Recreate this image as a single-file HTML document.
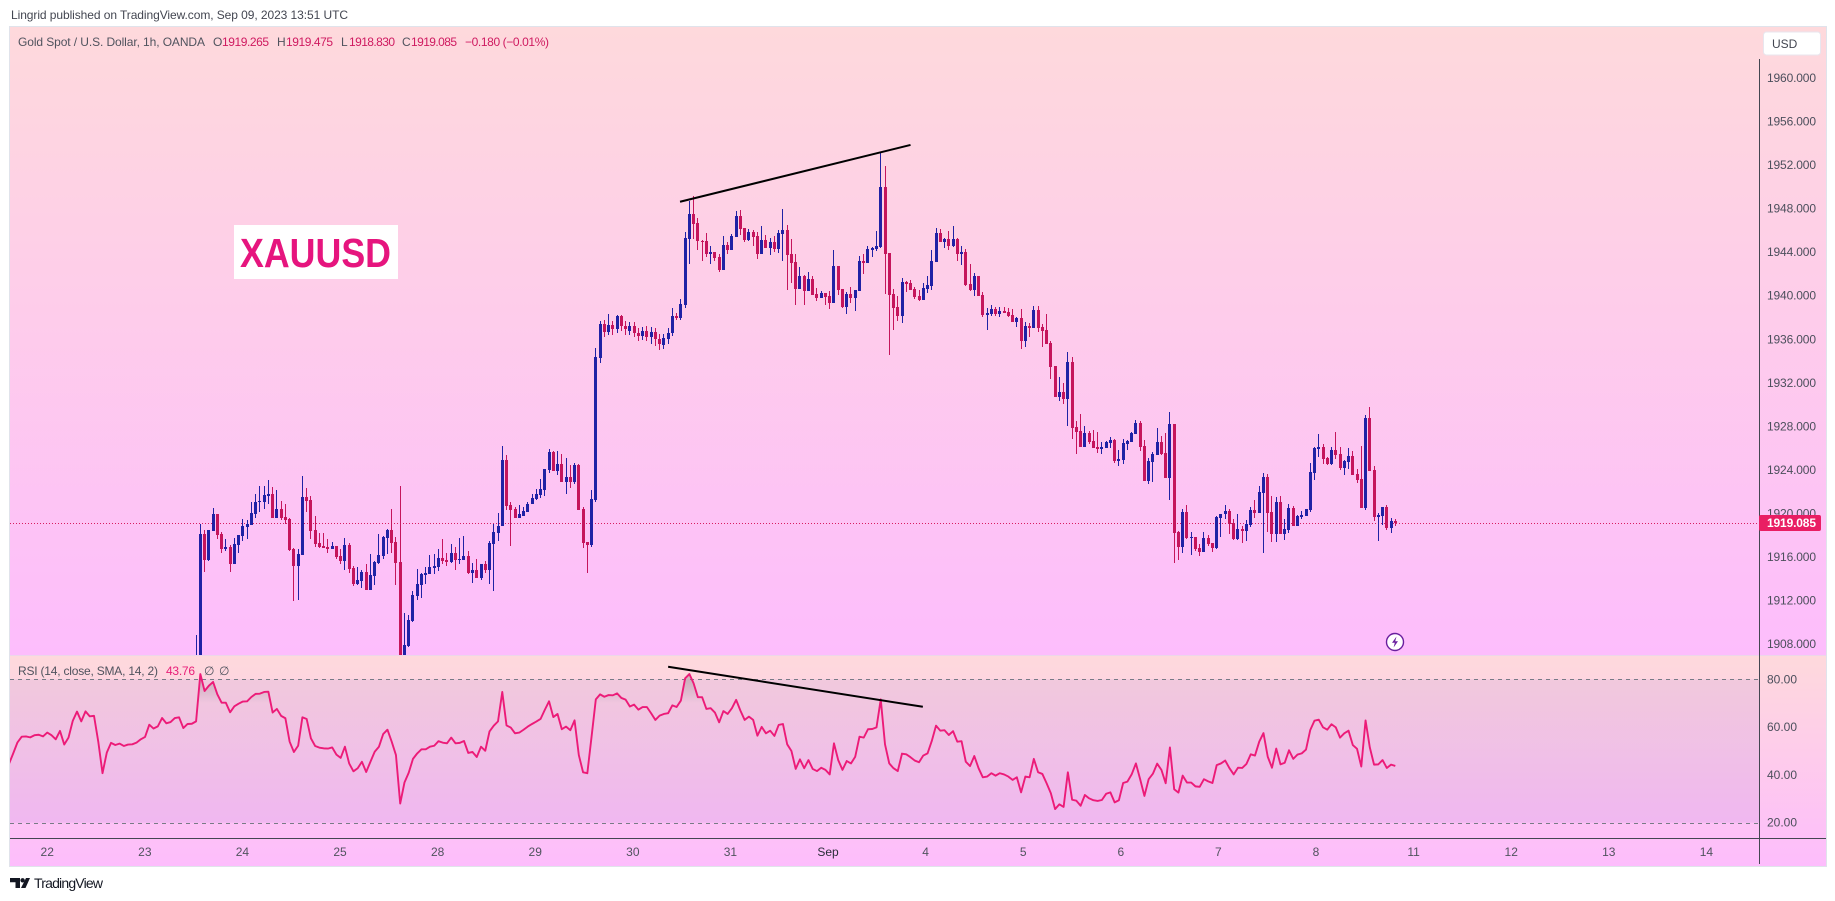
<!DOCTYPE html>
<html lang="en">
<head>
<meta charset="utf-8">
<title>XAUUSD chart</title>
<style>
html,body{margin:0;padding:0;background:#fff;width:1835px;height:901px;overflow:hidden}
svg{display:block}
text{font-family:"Liberation Sans",sans-serif}
</style>
</head>
<body>
<svg id="chart" xmlns="http://www.w3.org/2000/svg" width="1835" height="901" viewBox="0 0 1835 901">
  <defs>
    <linearGradient id="paneBg" x1="0" y1="0" x2="0" y2="1">
      <stop offset="0" stop-color="#fed9dc"/>
      <stop offset="1" stop-color="#fdbdfc"/>
    </linearGradient>
    <linearGradient id="obFill" gradientUnits="userSpaceOnUse" x1="0" y1="679" x2="0" y2="703">
      <stop offset="0" stop-color="#808080" stop-opacity="0.36"/>
      <stop offset="1" stop-color="#808080" stop-opacity="0"/>
    </linearGradient>
    <clipPath id="mainClip"><rect x="10" y="27" width="1749" height="628"/></clipPath>
    <clipPath id="rsiClip"><rect x="10" y="656" width="1749" height="182"/></clipPath>
    <clipPath id="obClip"><rect x="10" y="656" width="1749" height="47"/></clipPath>
  </defs>

  <text x="11" y="19" font-size="12" fill="#434651" textLength="337" lengthAdjust="spacing">Lingrid published on TradingView.com, Sep 09, 2023 13:51 UTC</text>

  <rect x="10" y="27" width="1816" height="628" fill="url(#paneBg)"/>
  <rect x="10" y="656" width="1816" height="210" fill="url(#paneBg)"/>
  <rect x="9" y="26" width="1818" height="1" fill="#e0e3eb"/>
  <rect x="9" y="26" width="1" height="841" fill="#e0e3eb"/>
  <rect x="1826" y="26" width="1" height="841" fill="#e0e3eb"/>
  <rect x="9" y="866" width="1818" height="1" fill="#e0e3eb"/>
  <rect x="10" y="655" width="1816" height="1" fill="#ecd6ea"/>

  <g id="rsiBack"></g>
  <g id="priceLayer" clip-path="url(#mainClip)" shape-rendering="crispEdges"></g>
  <g id="rsiLayer" clip-path="url(#rsiClip)"></g>
  <g id="drawLayer"></g>

  <rect x="1759" y="59" width="1" height="805" fill="#434651"/>
  <rect x="10" y="838" width="1816" height="1" fill="#434651"/>
  <g id="axisLayer"></g>

  <g font-size="12">
    <text x="18" y="46" fill="#50535e" textLength="187" lengthAdjust="spacing">Gold Spot / U.S. Dollar, 1h, OANDA</text>
    <text x="213" y="46" fill="#50535e">O</text>
    <text x="222" y="46" fill="#cf1a60" textLength="47" lengthAdjust="spacing">1919.265</text>
    <text x="277" y="46" fill="#50535e">H</text>
    <text x="286" y="46" fill="#cf1a60" textLength="47" lengthAdjust="spacing">1919.475</text>
    <text x="341" y="46" fill="#50535e">L</text>
    <text x="349" y="46" fill="#cf1a60" textLength="46" lengthAdjust="spacing">1918.830</text>
    <text x="402" y="46" fill="#50535e">C</text>
    <text x="411" y="46" fill="#cf1a60" textLength="46" lengthAdjust="spacing">1919.085</text>
    <text x="465" y="46" fill="#cf1a60" textLength="84" lengthAdjust="spacing">−0.180 (−0.01%)</text>
  </g>

  <g font-size="12">
    <text x="18" y="675" fill="#50535e" textLength="140" lengthAdjust="spacing">RSI (14, close, SMA, 14, 2)</text>
    <text x="166" y="675" fill="#e91e78" textLength="29" lengthAdjust="spacing">43.76</text>
    <text x="204" y="675" fill="#50535e">∅</text>
    <text x="219" y="675" fill="#50535e">∅</text>
  </g>

  <g>
    <rect x="234" y="225" width="164" height="54" fill="#ffffff"/>
    <text x="240" y="267" font-size="41" font-weight="700" fill="#e6157e" textLength="151" lengthAdjust="spacingAndGlyphs">XAUUSD</text>
  </g>

  <g>
    <rect x="1763.5" y="32" width="57" height="23" rx="3" fill="#ffffff" stroke="#e8e6ee"/>
    <text x="1772" y="48" font-size="12" fill="#434651">USD</text>
  </g>

  <g>
    <circle cx="1395" cy="642" r="8.5" fill="#ffffff" stroke="#6a1f9e" stroke-width="1.4"/>
    <path d="M1396.5 636.5 L1392 642.8 L1394.8 642.8 L1393.6 647.5 L1398 641.2 L1395.2 641.2 Z" fill="#6a1f9e"/>
  </g>

  <g>
    <path d="M10 878 H20 V888 H15.5 V882.2 H10 Z M26 878 H30 L25.5 888 H21 Z" fill="#131722"/>
    <circle cx="22.6" cy="880.3" r="2.2" fill="#131722"/>
    <text x="34" y="888" font-size="14" fill="#131722" textLength="69" lengthAdjust="spacing">TradingView</text>
  </g>
</svg>

<script>
const opens = [
1901,1905.5,1918.1,1915.7,1918.4,1919.9,1918.1,1916.7,1916.9,1915.3,
1917.1,1917.9,1918.7,1918.9,1919.9,1921.0,1921.0,1921.6,1921.8,1919.6,
1920.4,1919.7,1919.5,1916.7,1915.2,1916.2,1921.5,1921.2,1918.5,1917.3,
1917.0,1916.9,1916.7,1917.0,1916.1,1915.6,1917.1,1915.0,1913.5,1913.8,
1914.6,1913.0,1914.2,1915.4,1916.1,1917.7,1918.5,1917.4,1915.5,1906.5,
1907.8,1910.1,1912.4,1913.4,1914.3,1914.4,1915.0,1915.1,1915.9,1915.7,
1915.5,1916.4,1915.7,1915.7,1916.1,1914.5,1914.8,1914.1,1915.3,1914.8,
1917.2,1918.2,1918.8,1924.9,1920.8,1920.4,1919.6,1919.8,1920.1,1920.9,
1921.3,1921.7,1922.1,1924.0,1925.6,1923.9,1924.5,1922.9,1923.3,1922.9,
1924.4,1920.4,1917.4,1917.1,1921.2,1934.3,1937.4,1936.7,1937.3,1936.9,
1938.1,1937.2,1936.8,1937.2,1936.6,1936.3,1936.8,1936.2,1936.7,1936.0,
1935.5,1936.0,1936.6,1938.1,1937.96,1939.15,1945.2,1947.5,1946.7,1945.0,
1945.0,1943.8,1944.0,1943.6,1942.4,1944.7,1944.2,1945.4,1947.3,1946.2,
1945.1,1945.9,1945.5,1943.8,1945.1,1944.4,1944.9,1944.3,1945.7,1946.0,
1943.85,1943.1,1940.6,1941.8,1940.4,1941.5,1940.2,1939.8,1940.26,1940.0,
1939.35,1942.7,1940.6,1939.0,1940.2,1939.8,1940.4,1943.2,1943.0,1944.2,
1944.3,1944.5,1950.0,1943.9,1940.2,1939.0,1938.1,1941.3,1941.2,1940.6,
1940.0,1939.6,1940.6,1940.9,1943.1,1945.8,1944.9,1945.2,1944.6,1945.2,
1943.8,1944.0,1941.1,1940.5,1941.8,1940.1,1938.2,1938.3,1938.8,1938.3,
1938.6,1938.5,1938.2,1937.6,1937.95,1935.8,1937.2,1937.0,1938.7,1937.1,
1936.85,1935.65,1933.5,1930.7,1931.15,1930.5,1933.9,1927.9,1927.6,1926.1,
1927.4,1926.65,1926.1,1925.9,1926.0,1926.45,1926.7,1924.8,1924.9,1926.4,
1926.55,1927.3,1928.3,1926.2,1923.0,1924.7,1925.35,1926.55,1925.55,1923.25,
1928.2,1918.3,1916.9,1920.1,1917.75,1917.85,1916.8,1916.45,1917.75,1917.3,
1916.8,1919.6,1919.9,1920.2,1919.1,1917.65,1918.6,1918.4,1918.9,1920.3,
1920.0,1921.9,1923.35,1920.15,1918.1,1921.05,1918.1,1918.5,1920.5,1918.85,
1919.7,1919.75,1920.3,1923.7,1925.9,1926.1,1925.1,1924.55,1925.85,1925.5,
1924.2,1924.7,1925.3,1923.6,1923.2,1920.5,1928.8,1924.0,1919.7,1919.75,
1920.6,1918.65,1919.265];
const highs = [
1908.8,1919.0,1918.5,1918.5,1920.5,1919.9,1918.3,1917.6,1917.1,1917.7,
1918.0,1919.5,1919.4,1921.0,1921.8,1922.5,1922.5,1923.1,1922.4,1922.1,
1921.1,1920.9,1919.6,1916.8,1916.7,1923.4,1922.3,1921.6,1919.8,1918.2,
1918.2,1917.6,1917.4,1917.0,1916.7,1917.7,1917.3,1915.2,1915.1,1914.8,
1915.3,1916.3,1915.6,1918.1,1917.9,1918.6,1920.4,1917.8,1922.5,1910.8,
1910.7,1912.9,1914.9,1914.5,1915.1,1916.2,1916.3,1916.7,1917.6,1916.4,
1917.2,1916.9,1917.7,1917.9,1916.5,1915.4,1915.8,1915.3,1915.6,1917.5,
1919.0,1920.0,1926.2,1925.4,1921.0,1920.6,1920.8,1920.6,1921.0,1921.8,
1922.2,1923.2,1924.1,1925.9,1925.7,1925.7,1925.5,1925.1,1924.4,1924.6,
1924.5,1920.6,1917.4,1922.1,1935.2,1937.7,1937.8,1938.3,1937.7,1938.2,
1938.2,1937.7,1937.6,1937.6,1937.0,1937.1,1937.2,1937.1,1937.0,1936.5,
1936.5,1937.0,1938.85,1938.4,1939.7,1945.9,1948.7,1949.2,1947.1,1945.1,
1945.8,1944.6,1944.0,1943.8,1945.5,1944.9,1945.7,1947.8,1947.9,1946.2,
1946.1,1946.05,1945.9,1946.4,1945.6,1945.3,1945.5,1946.05,1948.0,1946.5,
1945.2,1943.85,1942.65,1941.9,1942.2,1941.8,1940.7,1940.4,1940.26,1940.4,
1944.2,1942.7,1940.6,1940.35,1940.8,1940.5,1943.65,1943.8,1944.6,1944.5,
1945.95,1953.1,1951.9,1943.9,1940.6,1940.0,1941.6,1941.35,1941.45,1940.8,
1940.5,1941.2,1941.8,1944.2,1946.2,1946.1,1945.3,1945.95,1946.4,1945.3,
1944.6,1944.3,1942.9,1942.1,1941.8,1940.35,1938.9,1939.15,1939.0,1939.0,
1939.0,1938.9,1938.8,1938.05,1938.8,1937.6,1937.5,1939.05,1939.05,1937.4,
1938.3,1935.8,1933.5,1932.55,1932.0,1934.8,1934.4,1928.5,1929.1,1928.0,
1927.6,1927.7,1927.5,1926.55,1926.65,1927.0,1926.8,1925.8,1926.8,1926.7,
1927.5,1928.6,1928.5,1926.7,1925.1,1925.6,1927.8,1927.1,1927.4,1929.3,
1928.2,1918.4,1920.4,1920.8,1918.3,1917.85,1917.2,1918.3,1918.0,1917.3,
1919.75,1919.95,1920.8,1920.4,1919.5,1919.95,1918.85,1919.4,1920.6,1921.2,
1922.5,1923.7,1923.6,1921.6,1921.5,1921.6,1919.5,1920.9,1920.7,1919.85,
1920.2,1920.4,1924.6,1926.1,1927.3,1926.4,1925.2,1926.1,1927.5,1926.1,
1924.9,1926.0,1925.7,1924.1,1926.2,1929.0,1929.8,1924.35,1920.05,1920.6,
1920.8,1919.6,1919.475];
const lows = [
1900.5,1904.5,1914.6,1915.6,1918.4,1917.6,1916.4,1916.5,1914.6,1915.3,
1916.4,1917.5,1917.6,1918.9,1919.6,1920.1,1920.4,1920.9,1919.6,1919.6,
1919.4,1919.0,1916.5,1911.9,1912.0,1916.2,1920.1,1917.6,1916.9,1916.8,
1916.8,1916.4,1916.7,1915.8,1915.3,1914.8,1914.5,1913.3,1913.4,1913.1,
1913.0,1913.0,1913.4,1915.3,1915.8,1916.3,1916.4,1913.4,1906,1906,
1907.7,1910.0,1912.0,1912.2,1913.5,1914.4,1914.4,1914.7,1915.3,1915.2,
1915.4,1914.8,1915.3,1915.7,1914.4,1913.6,1914.1,1913.9,1914.5,1913.5,
1912.9,1917.5,1918.8,1920.3,1917.0,1919.6,1919.6,1919.8,1920.1,1920.9,
1921.2,1921.4,1921.6,1923.7,1923.9,1923.5,1922.9,1921.8,1922.3,1922.7,
1920.3,1916.8,1914.5,1916.9,1921.0,1933.8,1936.2,1936.4,1936.4,1936.6,
1936.8,1936.4,1936.4,1936.2,1935.8,1935.9,1935.8,1935.6,1935.4,1935.0,
1935.1,1935.6,1936.3,1937.8,1937.8,1938.9,1942.9,1945.2,1944.2,1943.2,
1943.6,1942.9,1943.2,1942.2,1942.4,1943.8,1944.2,1945.4,1945.6,1944.9,
1945.0,1944.6,1943.4,1943.8,1944.4,1943.75,1944.0,1943.9,1943.2,1940.5,
1941.2,1939.15,1940.6,1939.15,1940.4,1940.1,1939.5,1939.8,1939.15,1938.8,
1939.35,1940.1,1938.9,1938.3,1939.3,1938.6,1940.4,1942.0,1943.0,1943.6,
1944.1,1944.4,1940.2,1934.55,1936.85,1937.7,1937.5,1940.35,1940.5,1939.7,
1939.5,1939.6,1940.25,1940.5,1943.1,1944.9,1944.4,1944.2,1944.5,1943.2,
1942.8,1940.9,1940.4,1940.0,1940.0,1938.05,1936.85,1938.1,1938.1,1938.05,
1938.4,1938.05,1937.6,1937.1,1935.1,1935.3,1936.2,1937.0,1936.7,1935.3,
1935.6,1932.35,1930.7,1930.3,1930.05,1928.0,1926.8,1925.45,1926.1,1926.1,
1926.4,1926.0,1925.55,1925.45,1926.0,1926.0,1924.6,1924.35,1924.5,1925.8,
1926.55,1927.3,1925.7,1923.0,1922.7,1922.9,1925.35,1925.35,1923.25,1921.2,
1915.45,1915.7,1916.4,1917.65,1916.2,1916.55,1916.1,1916.45,1917.0,1916.45,
1916.75,1917.85,1919.5,1918.1,1917.55,1917.55,1917.3,1917.5,1918.75,1919.6,
1920.0,1916.4,1918.3,1917.4,1917.4,1918.1,1917.55,1918.2,1918.85,1918.85,
1919.5,1919.75,1920.1,1923.1,1925.2,1924.5,1924.4,1924.45,1925.0,1924.0,
1923.5,1924.1,1923.5,1922.8,1920.5,1920.3,1923.9,1919.3,1917.5,1918.9,
1918.45,1918.2,1918.83];
const closes = [
1906,1918.1,1915.7,1918.5,1919.9,1918.0,1916.7,1916.9,1915.3,1917.2,
1918.0,1918.8,1919.0,1920.0,1921.0,1921.1,1921.7,1921.8,1919.6,1920.4,
1919.6,1919.4,1916.6,1915.2,1916.3,1921.5,1921.1,1918.4,1917.2,1916.9,
1916.8,1916.7,1917.0,1916.0,1915.6,1917.1,1914.9,1913.5,1913.9,1914.6,
1913.0,1914.3,1915.5,1916.2,1917.8,1918.5,1917.3,1915.4,1906.5,1907.9,
1910.2,1912.5,1913.5,1914.4,1914.5,1915.1,1915.2,1915.9,1915.6,1915.5,
1916.4,1915.7,1915.8,1916.1,1914.5,1914.8,1914.1,1915.3,1914.8,1917.3,
1918.3,1918.8,1924.9,1920.7,1920.3,1919.6,1919.9,1920.2,1920.9,1921.4,
1921.8,1922.2,1924.1,1925.6,1923.9,1924.5,1922.9,1923.3,1922.9,1924.4,
1920.3,1917.3,1917.1,1921.3,1934.4,1937.4,1936.7,1937.3,1936.9,1938.1,
1937.2,1936.9,1937.2,1936.6,1936.3,1936.8,1936.2,1936.7,1936.0,1935.6,
1936.1,1936.6,1938.14,1938.0,1939.25,1945.3,1947.5,1946.6,1945.0,1944.95,
1943.8,1944.0,1943.5,1942.4,1944.7,1944.2,1945.5,1947.3,1946.1,1945.1,
1945.9,1945.4,1943.8,1945.1,1944.4,1944.9,1944.3,1945.8,1946.0,1943.75,
1943.0,1940.6,1941.8,1940.4,1941.5,1940.1,1939.8,1940.26,1939.9,1939.35,
1942.7,1940.5,1939.0,1940.2,1939.8,1940.5,1943.2,1943.0,1944.3,1944.4,
1944.6,1950.0,1943.8,1940.1,1938.9,1938.1,1941.3,1941.1,1940.5,1939.9,
1939.6,1940.7,1941.0,1943.2,1945.8,1944.9,1945.2,1944.6,1945.2,1943.8,
1944.0,1941.0,1940.5,1941.8,1940.0,1938.2,1938.4,1938.8,1938.3,1938.6,
1938.4,1938.1,1937.6,1937.95,1935.8,1937.2,1937.0,1938.7,1937.0,1936.8,
1935.6,1933.45,1930.7,1931.15,1930.5,1933.9,1927.85,1927.5,1926.1,1927.4,
1926.55,1926.0,1925.9,1926.1,1926.55,1926.7,1924.8,1925.0,1926.45,1926.65,
1927.4,1928.3,1926.1,1923.0,1924.8,1925.45,1926.55,1925.45,1923.25,1928.2,
1918.2,1916.9,1920.1,1917.7,1917.85,1916.75,1916.45,1917.75,1917.2,1916.8,
1919.7,1919.95,1920.2,1919.0,1917.65,1918.6,1918.4,1919.0,1920.3,1920.0,
1922.0,1923.35,1920.0,1918.1,1921.05,1918.1,1918.6,1920.5,1918.85,1919.75,
1919.85,1920.4,1923.8,1926.0,1926.1,1925.0,1924.55,1925.85,1925.4,1924.2,
1924.8,1925.3,1923.5,1923.1,1920.5,1928.8,1923.9,1919.7,1919.85,1920.6,
1918.65,1919.3,1919.085];
const rsiFirstBar = -44;
const rsiValues = [
44.6,49.0,53.6,56.0,56.1,55.7,56.6,56.8,56.1,57.7,56.6,54.9,58.4,52.7,55.6,
62.6,66.5,62.4,66.6,64.5,64.7,53.9,40.7,49.3,53.4,52.5,53.1,52.1,52.7,52.8,
53.5,54.9,55.9,61.0,59.4,60.3,63.8,61.6,62.1,63.8,64.1,59.6,61.3,61.4,62.4,
82.2,75.1,77.3,78.9,73.7,70.2,70.2,66.2,68.7,69.8,70.7,70.8,72.6,73.9,74.0,
74.7,74.8,66.1,67.6,64.7,63.7,53.9,49.6,52.2,64.1,63.4,55.3,52.1,51.4,51.1,
51.0,51.5,48.5,47.1,51.8,44.8,41.5,42.8,45.5,41.2,45.5,49.7,51.8,57.1,58.9,
53.9,48.3,28.0,36.8,40.9,46.7,49.0,50.7,50.7,51.8,52.2,54.1,53.5,53.2,55.6,
53.2,53.4,54.2,49.2,49.6,47.5,51.8,50.1,58.2,60.6,62.4,74.7,60.7,59.8,57.4,
57.7,58.9,60.2,61.3,62.3,63.4,67.2,70.8,64.2,65.5,59.1,60.2,58.7,62.8,48.3,
41.1,40.7,56.0,71.6,73.7,72.7,73.4,73.3,74.1,72.2,71.5,68.6,69.4,67.3,
68.4,68.4,65.8,63.0,64.8,65.5,65.8,69.1,68.4,71.1,80.4,82.2,78.3,72.5,72.5,
67.6,67.9,66.1,62.0,66.7,65.5,67.9,71.4,66.9,63.0,64.4,63.0,56.4,60.1,57.4,
58.5,56.3,60.9,61.3,52.8,50.0,42.5,46.5,42.8,46.2,42.5,41.6,43.0,42.1,40.2,
53.2,46.2,42.1,45.8,44.8,47.6,56.0,55.6,59.1,59.2,59.9,71.6,52.8,44.8,42.8,
41.6,48.9,48.6,47.4,46.0,45.3,48.1,49.0,54.2,60.6,58.5,58.7,56.7,58.3,53.9,
54.1,45.5,43.7,47.9,42.8,39.0,39.3,40.7,39.7,40.7,40.2,39.3,37.9,39.0,32.7,
39.3,39.0,46.7,41.1,40.4,36.5,32.3,25.7,27.7,26.6,41.1,29.6,29.2,27.1,31.6,
30.2,29.4,29.1,29.5,32.1,32.7,28.5,29.4,36.6,37.2,40.2,44.8,38.2,31.2,38.2,
40.5,44.7,42.1,36.5,51.5,34.0,32.6,39.7,36.8,36.8,35.2,35.0,38.2,37.3,36.6,
44.1,44.8,46.0,42.8,40.2,43.0,42.9,44.6,48.6,48.1,53.9,57.5,47.6,43.0,51.0,
44.4,45.1,50.3,46.7,48.5,49.0,50.6,58.8,62.7,63.1,59.9,58.9,61.2,59.9,55.6,
57.4,58.5,52.5,50.9,43.5,62.8,51.5,44.3,44.4,46.2,42.9,44.3,43.76];
const priceTicks = [1960,1956,1952,1948,1944,1940,1936,1932,1928,1924,1920,1916,1912,1908];
const rsiTicks = [80,60,40,20];
const rsiBandLevels = [80,20];
const dayLabels = ["22","23","24","25","28","29","30","31","Sep","4","5","6","7","8","11","12","13","14"];
const firstDayBar = -35;
const barsPerDay = 22.95;
const lastPrice = 1919.085;
const priceTrendBars = [113.8,168];
const priceTrendValues = [1948.64,1953.86];
const rsiTrendBars = [111,170.9];
const rsiTrendValues = [85.27,68.5];

const NS = "http://www.w3.org/2000/svg";
const UP = "#1f22a5";
const DOWN = "#c5155c";
const xAt = bar => 196.08 + bar * 4.2526;
const yPrice = p => 523.3 - (p - lastPrice) * 10.88;
const yRsi = r => 679.3 + (80 - r) * 2.39;

function make(parent, tag, attrs, text) {
  const el = document.createElementNS(NS, tag);
  for (const k in attrs) el.setAttribute(k, attrs[k]);
  if (text !== undefined) el.textContent = text;
  parent.appendChild(el);
  return el;
}

const rsiBack = document.getElementById("rsiBack");
const priceLayer = document.getElementById("priceLayer");
const rsiLayer = document.getElementById("rsiLayer");
const drawLayer = document.getElementById("drawLayer");
const axisLayer = document.getElementById("axisLayer");

// RSI band and its dashed levels
const band = make(rsiBack, "rect", {x: 10, y: yRsi(rsiBandLevels[0]), width: 1749, height: yRsi(rsiBandLevels[1]) - yRsi(rsiBandLevels[0]), fill: "#7e57c2", "fill-opacity": 0.1});


rsiBandLevels.forEach(level => {
  const ln = make(rsiBack, "line", {x1: 10, x2: 1759, y1: Math.round(yRsi(level)) + 0.5, y2: Math.round(yRsi(level)) + 0.5, stroke: "#787b86", "stroke-width": 1, "stroke-dasharray": "4 4"});
  
  
});

// last price dotted line
const lastY = Math.round(yPrice(lastPrice));
const lastLine = make(priceLayer, "line", {x1: 10, x2: 1759, y1: lastY + 0.5, y2: lastY + 0.5, stroke: "#d81b60", "stroke-width": 1, "stroke-dasharray": "1 2"});



// candles
opens.forEach((open, i) => {
  const close = closes[i];
  const color = close >= open ? UP : DOWN;
  const px = Math.floor(xAt(i));
  const g = make(priceLayer, "g", {fill: color});
  
  
  const hy = Math.round(yPrice(highs[i]));
  const ly = Math.round(yPrice(lows[i]));
  const wick = make(g, "rect", {x: px, y: hy, width: 1, height: Math.max(1, ly - hy)});
  
  
  const ty = Math.round(yPrice(Math.max(open, close)));
  const by = Math.round(yPrice(Math.min(open, close)));
  const body = make(g, "rect", {x: px - 1, y: ty, width: 3, height: Math.max(1, by - ty)});
  
  
});

// RSI line + overbought fill
const rsiPts = rsiValues.map((v, i) => [xAt(rsiFirstBar + i), yRsi(v)]);
const rsiPathD = rsiPts.map((p, i) => (i ? "L" : "M") + p[0].toFixed(2) + " " + p[1].toFixed(2)).join(" ");
const y70 = yRsi(70);
const fillD = rsiPathD + " L" + rsiPts[rsiPts.length - 1][0].toFixed(2) + " " + y70 + " L" + rsiPts[0][0].toFixed(2) + " " + y70 + " Z";
const obG = make(rsiLayer, "g", {"clip-path": "url(#obClip)"});


const ob = make(obG, "path", {d: fillD, fill: "url(#obFill)"});


const rsiLine = make(rsiLayer, "path", {d: rsiPathD, fill: "none", stroke: "#ec1b78", "stroke-width": 1.9, "stroke-linejoin": "round"});



// trend lines
const priceTrend = make(drawLayer, "line", {x1: xAt(priceTrendBars[0]), y1: yPrice(priceTrendValues[0]), x2: xAt(priceTrendBars[1]), y2: yPrice(priceTrendValues[1]), stroke: "#000", "stroke-width": 2});


const rsiTrend = make(drawLayer, "line", {x1: xAt(rsiTrendBars[0]), y1: yRsi(rsiTrendValues[0]), x2: xAt(rsiTrendBars[1]), y2: yRsi(rsiTrendValues[1]), stroke: "#000", "stroke-width": 2});



// price axis labels
priceTicks.forEach(p => {
  const t = make(axisLayer, "text", {x: 1767, y: yPrice(p) + 4, "font-size": 12, fill: "#4c4f5c", textLength: 49, lengthAdjust: "spacing"}, p.toFixed(3));
  
  
});
rsiTicks.forEach(r => {
  const t = make(axisLayer, "text", {x: 1767, y: yRsi(r) + 4, "font-size": 12, fill: "#4c4f5c", textLength: 30, lengthAdjust: "spacing"}, r.toFixed(2));
  
  
});

// last price tag
const tag = make(axisLayer, "rect", {x: 1759, y: lastY - 8, width: 62, height: 16, rx: 2, fill: "#e91e63"});


const tagText = make(axisLayer, "text", {x: 1767, y: lastY + 4, "font-size": 12, "font-weight": 700, fill: "#fff", textLength: 49, lengthAdjust: "spacing"}, lastPrice.toFixed(3));



// time axis labels
dayLabels.forEach((label, k) => {
  const t = make(axisLayer, "text", {x: xAt(firstDayBar + k * barsPerDay), y: 856, "font-size": 12, "text-anchor": "middle", fill: label === "Sep" ? "#2a2e39" : "#50535e"}, label);
  
  
});
</script>
</body>
</html>
